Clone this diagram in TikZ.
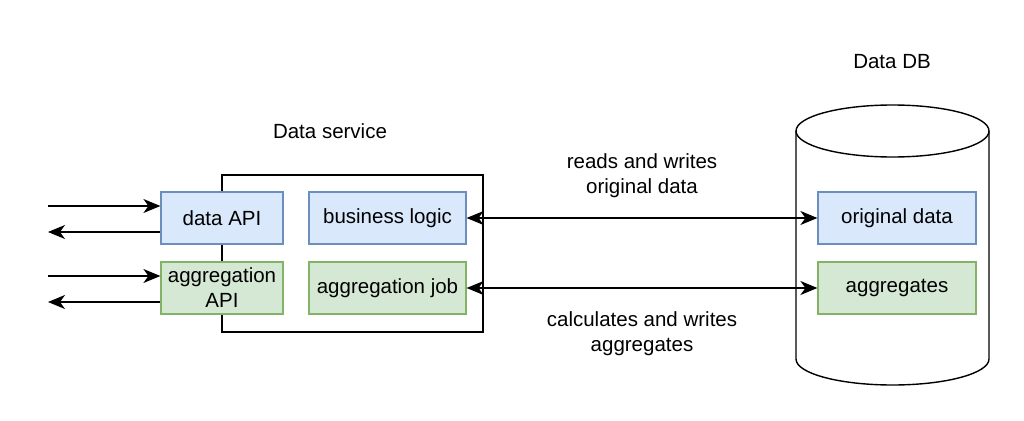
\documentclass[tikz,border=0pt]{standalone}
\usepackage{fontspec}
\setmainfont{Liberation Sans}
\usetikzlibrary{arrows.meta}
\definecolor{bluefill}{HTML}{DAE8FC}
\definecolor{bluedraw}{HTML}{6C8EBF}
\definecolor{greenfill}{HTML}{D5E8D4}
\definecolor{greendraw}{HTML}{82B366}
\begin{document}
\begin{tikzpicture}[x=1pt,y=1pt,
  font=\fontsize{20.5}{25}\selectfont,
  line/.style={line width=1.4pt,black},
  bluebox/.style={draw=bluedraw,fill=bluefill,line width=1.2pt,minimum width=122pt,minimum height=52pt,inner sep=0pt,align=center},
  greenbox/.style={draw=greendraw,fill=greenfill,line width=1.2pt,minimum width=122pt,minimum height=52pt,inner sep=0pt,align=center},
  lbl/.style={align=center,inner sep=0pt}]
\tikzset{>={Stealth[length=17pt,width=14pt,inset=5pt]}}
\useasboundingbox (0,0) rectangle (1024,-420);
% Data service container
\node[draw,line width=1.4pt,minimum width=261pt,minimum height=157pt,inner sep=0pt] (svc) at (352.5,-253.5) {};
\node[lbl] (svclabel) at (330,-131) {Data service};
\node[bluebox] (dapi) at (222,-218) {data API};
\node[greenbox] (aapi) at (222,-288) {aggregation\\API};
\node[bluebox,minimum width=157pt] (blogic) at (387.5,-218) {business logic};
\node[greenbox,minimum width=157pt] (ajob) at (387.5,-288) {aggregation job};
% Left coordinates
\coordinate (in1) at (48,-206);
\coordinate (out1) at (48,-232);
\coordinate (in2) at (48,-276);
\coordinate (out2) at (48,-302);
\draw[line,->] (in1) -- (in1 -| dapi.west);
\draw[line,->] (out1 -| dapi.west) -- (out1);
\draw[line,->] (in2) -- (in2 -| aapi.west);
\draw[line,->] (out2 -| aapi.west) -- (out2);
% Cylinder
\draw[line,fill=white] (796,-131) -- (796,-359) arc[start angle=180,end angle=360,x radius=96.5pt,y radius=26pt] -- (989,-131);
\draw[line] (892.5,-131) ellipse[x radius=96.5pt,y radius=26pt];
\node[lbl] (dblabel) at (892,-62) {Data DB};
\node[bluebox,minimum width=158pt] (orig) at (897,-218) {original data};
\node[greenbox,minimum width=158pt] (aggs) at (897,-288) {aggregates};
% Connectors
\draw[line,<->] (blogic.east) -- (orig.west);
\draw[line,<->] (ajob.east) -- (aggs.west);
\node[lbl] (l1) at (642,-176) {reads and writes\\original data};
\node[lbl] (l2) at (642,-334) {calculates and writes\\aggregates};
\end{tikzpicture}
\end{document}
